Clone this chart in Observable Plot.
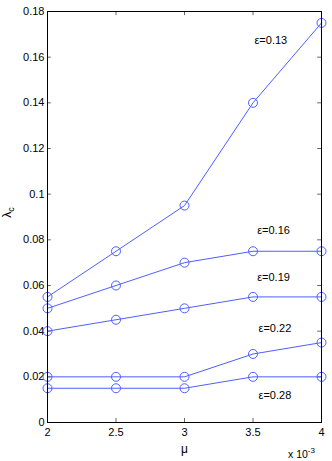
<!DOCTYPE html>
<html>
<head>
<meta charset="utf-8">
<script src="https://cdn.jsdelivr.net/npm/d3@7"></script>
<script src="https://cdn.jsdelivr.net/npm/@observablehq/plot@0.6"></script>
<style>
  html, body { margin: 0; padding: 0; background: #fff; }
  #chart { position: relative; width: 332px; height: 461px; }
  .lbl { position: absolute; font-family: "Liberation Sans", Arial, sans-serif; color: #000; line-height: 1; }
</style>
</head>
<body>
<div id="chart"></div>
<script>
const mu = [2, 2.5, 3, 3.5, 4];
const seriesNames = ["ε=0.13", "ε=0.16", "ε=0.19", "ε=0.22", "ε=0.28"];
const eps013 = [0.055, 0.075, 0.095, 0.14, 0.175];
const eps016 = [0.050, 0.060, 0.070, 0.075, 0.075];
const eps019 = [0.040, 0.045, 0.050, 0.055, 0.055];
const eps022 = [0.020, 0.020, 0.020, 0.030, 0.035];
const eps028 = [0.015, 0.015, 0.015, 0.020, 0.020];
const labelX = [3.63, 3.65, 3.65, 3.66, 3.66];
const labelY = [0.1675, 0.0842, 0.0635, 0.0412, 0.0118];
const xTicks = [2, 2.5, 3, 3.5, 4];
const yTicks = [0, 0.02, 0.04, 0.06, 0.08, 0.1, 0.12, 0.14, 0.16, 0.18];

const allSeries = [eps013, eps016, eps019, eps022, eps028];
const data = [];
allSeries.forEach((vals, si) => vals.forEach((v, i) => data.push({s: seriesNames[si], x: mu[i], y: v})));
const labels = seriesNames.map((s, i) => ({s, x: labelX[i], y: labelY[i]}));

const color = "#4d5fff";
const xMin = 2, xMax = 4, yMin = 0, yMax = 0.18;
const tx = 0.028; // ~4px in x data
const ty = 0.0018; // ~4px in y data

const plot = Plot.plot({
  width: 332,
  height: 461,
  marginLeft: 47,
  marginRight: 11,
  marginTop: 11,
  marginBottom: 39,
  style: {fontFamily: "Liberation Sans, Arial, sans-serif", fontSize: "10.5px", color: "#000", background: "#fff"},
  x: {domain: [xMin, xMax], label: null},
  y: {domain: [yMin, yMax], label: null},
  marks: [
    Plot.axisX({ticks: xTicks, tickSize: 0, tickPadding: 6, tickFormat: d => String(d), fontSize: 11}),
    Plot.axisY({ticks: yTicks, tickSize: 0, tickPadding: 3, tickFormat: d => String(d), fontSize: 11}),
    Plot.ruleX(xTicks, {x: d => d, y1: yMin, y2: yMin + ty, stroke: "#000", strokeWidth: 0.6}),
    Plot.ruleX(xTicks, {x: d => d, y1: yMax, y2: yMax - ty, stroke: "#000", strokeWidth: 0.6}),
    Plot.ruleY(yTicks, {y: d => d, x1: xMin, x2: xMin + tx, stroke: "#000", strokeWidth: 0.6}),
    Plot.ruleY(yTicks, {y: d => d, x1: xMax, x2: xMax - tx, stroke: "#000", strokeWidth: 0.6}),
    Plot.line(data, {x: "x", y: "y", z: "s", stroke: color, strokeWidth: 1}),
    Plot.dot(data, {x: "x", y: "y", r: 4.5, stroke: color, fill: "none", strokeWidth: 1}),
    Plot.text(labels, {x: "x", y: "y", text: "s", fontSize: 11, fill: "#000"}),
    Plot.frame({stroke: "#000", strokeWidth: 1})
  ]
});
const chart = document.getElementById("chart");
chart.appendChild(plot);

const ylab = document.createElement("div");
ylab.className = "lbl";
ylab.style.cssText = "left:3px;top:205px;font-size:12px;transform:rotate(-90deg);transform-origin:center;white-space:nowrap;";
ylab.innerHTML = "λ<sub style='font-size:9px;vertical-align:-3px'>c</sub>";
chart.appendChild(ylab);

const xlab = document.createElement("div");
xlab.className = "lbl";
xlab.style.cssText = "left:181px;top:443px;font-size:12px;";
xlab.textContent = "μ";
chart.appendChild(xlab);

const xexp = document.createElement("div");
xexp.className = "lbl";
xexp.style.cssText = "left:288px;top:447px;font-size:10.5px;white-space:nowrap;";
xexp.innerHTML = "x 10<sup style='font-size:8px;vertical-align:5px'>-3</sup>";
chart.appendChild(xexp);
</script>
</body>
</html>
